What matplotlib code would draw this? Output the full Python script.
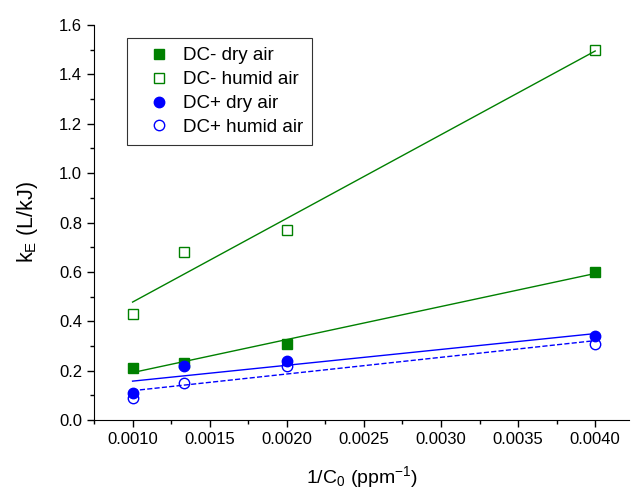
import numpy as np
import matplotlib
matplotlib.use('Agg')
import matplotlib.pyplot as plt
from matplotlib.ticker import MultipleLocator

plt.rcParams['font.family'] = ['Liberation Sans', 'DejaVu Sans']
plt.rcParams['mathtext.fontset'] = 'custom'
plt.rcParams['mathtext.rm'] = 'Liberation Sans'
plt.rcParams['mathtext.it'] = 'Liberation Sans'

inv_c0 = [1/1000, 1/750, 1/500, 1/250]
dcm_dry = [0.21, 0.23, 0.31, 0.60]
dcm_humid = [0.43, 0.68, 0.77, 1.50]
dcp_dry = [0.11, 0.22, 0.24, 0.34]
dcp_humid = [0.09, 0.15, 0.22, 0.31]

green = '#008000'
blue = '#0000ff'

fig = plt.figure(figsize=(6.31, 4.88), dpi=100)
ax = fig.add_axes([0.149, 0.139, 0.848, 0.81])

series = [
    (dcm_dry, 'DC- dry air', 's', green, green, '-'),
    (dcm_humid, 'DC- humid air', 's', green, 'none', '-'),
    (dcp_dry, 'DC+ dry air', 'o', blue, blue, '-'),
    (dcp_humid, 'DC+ humid air', 'o', blue, 'none', '--'),
]

x = np.array(inv_c0)
for y, lab, mk, col, fc, ls in series:
    ax.plot(x, y, linestyle='none', marker=mk, markersize=7.5 if mk == 'o' else 6.5,
            markeredgecolor=col, markerfacecolor=fc, markeredgewidth=1.0, label=lab)
    k, b = np.polyfit(x, y, 1)
    xx = np.array([x.min(), x.max()])
    ax.plot(xx, k * xx + b, color=col, linestyle=ls, linewidth=1.0)

ax.set_xlim(0.00075, 0.00422)
ax.set_ylim(0, 1.6)
ax.xaxis.set_minor_locator(MultipleLocator(0.00025))
ax.yaxis.set_major_locator(MultipleLocator(0.2))
ax.yaxis.set_minor_locator(MultipleLocator(0.1))
ax.xaxis.set_ticks([t for t in np.arange(0.001, 0.00401, 0.0005)])
ax.xaxis.set_major_formatter(plt.FuncFormatter(lambda v, p: f'{v:.4f}'))
ax.yaxis.set_major_formatter(plt.FuncFormatter(lambda v, p: f'{v:.1f}'))

ax.spines['top'].set_visible(False)
ax.spines['right'].set_visible(False)
ax.tick_params(which='major', direction='out', length=5, width=1, labelsize=12)
ax.tick_params(which='minor', direction='out', length=3, width=1)

ax.set_xlabel('1/C$_0$ (ppm$^{-1}$)', fontsize=14, labelpad=12)
ax.set_ylabel('k$_E$ (L/kJ)', fontsize=15.5, labelpad=14)

leg = ax.legend(loc='upper left', bbox_to_anchor=(0.062, 0.967), borderaxespad=0,
                fontsize=13.5, frameon=True, fancybox=False, edgecolor='black',
                handletextpad=0.05, borderpad=0.5, labelspacing=0.36, handlelength=2.4)
leg.get_frame().set_linewidth(0.8)

fig.savefig('out.png', dpi=100)
